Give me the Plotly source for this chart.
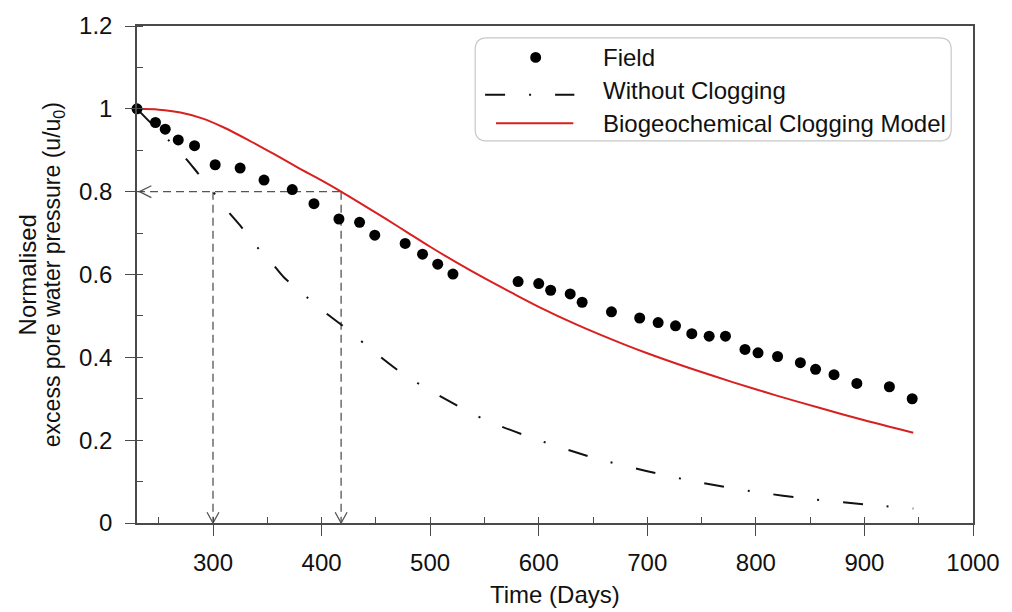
import plotly.graph_objects as go

# ---------------- data ----------------
field_days = [230, 247, 256, 268, 283, 302, 325, 347, 373, 393, 416, 435, 449, 477, 493, 507, 521,
              581, 600, 611, 629, 640, 667, 693, 710, 726, 741, 757, 772, 790, 802, 820, 841, 855,
              872, 893, 923, 944]
field_u = [1.0, 0.967, 0.951, 0.925, 0.911, 0.865, 0.857, 0.828, 0.805, 0.771, 0.734, 0.726, 0.695,
           0.675, 0.649, 0.625, 0.601, 0.583, 0.578, 0.562, 0.553, 0.533, 0.510, 0.495, 0.484, 0.476,
           0.457, 0.451, 0.451, 0.419, 0.411, 0.402, 0.387, 0.371, 0.358, 0.337, 0.329, 0.300]

noclog_days = [230, 245, 258, 274, 286, 300, 313, 326, 340, 355, 365, 380, 400, 420, 450, 475, 500,
               550, 600, 650, 700, 750, 800, 850, 900, 945]
noclog_u = [1.0, 0.96, 0.927, 0.883, 0.845, 0.80, 0.755, 0.715, 0.668, 0.625, 0.594, 0.56, 0.515,
            0.475, 0.41, 0.36, 0.32, 0.25, 0.20, 0.158, 0.125, 0.097, 0.075, 0.058, 0.045, 0.035]

model_days = [230, 250, 270, 290, 310, 333, 356, 379, 400, 418, 440, 460, 480, 500, 525, 550, 575,
              600, 635, 678, 700, 738, 780, 820, 860, 900, 945]
model_u = [1.0, 0.998, 0.991, 0.977, 0.955, 0.924, 0.891, 0.857, 0.827, 0.80, 0.765, 0.733, 0.700,
           0.667, 0.628, 0.591, 0.556, 0.522, 0.479, 0.432, 0.410, 0.375, 0.339, 0.307, 0.277,
           0.248, 0.218]

guide_u = 0.8
guide_days = [300, 418]

x_ticks = [300, 400, 500, 600, 700, 800, 900, 1000]
y_ticks = [0, 0.2, 0.4, 0.6, 0.8, 1.0, 1.2]
y_tick_text = ["0", "0.2", "0.4", "0.6", "0.8", "1", "1.2"]

series_names = ["Field", "Without Clogging", "Biogeochemical Clogging Model"]

# ---------------- style ----------------
X_RANGE = [230, 1000]
Y_RANGE = [0, 1.2]
W, H = 1012, 612
ML, MR, MT, MB = 137, 32, 17, 89
PW = W - ML - MR
PH = H - MT - MB
FONT = "Liberation Sans, Arial, sans-serif"
RED = "#d92020"
GUIDE = "#555555"
AX = "#4a4a4a"
DASHDOT = "20px,24px,2px,24px"

dpp_x = (X_RANGE[1] - X_RANGE[0]) / PW   # data per pixel
dpp_y = (Y_RANGE[1] - Y_RANGE[0]) / PH


def px(xp):
    return (xp - ML) / PW


def py(yp):
    return (H - MB - yp) / PH


fig = go.Figure()

# guide lines
fig.add_trace(go.Scatter(x=[X_RANGE[0], guide_days[1]], y=[guide_u, guide_u], mode="lines",
                         line=dict(color=GUIDE, width=1.3, dash="8px,5px"), showlegend=False,
                         hoverinfo="skip"))
for gd in guide_days:
    fig.add_trace(go.Scatter(x=[gd, gd], y=[guide_u, 0], mode="lines",
                             line=dict(color=GUIDE, width=1.3, dash="8px,5px"), showlegend=False,
                             hoverinfo="skip"))
    fig.add_trace(go.Scatter(x=[gd - 6 * dpp_x, gd, gd + 6 * dpp_x],
                             y=[11 * dpp_y, 0, 11 * dpp_y], mode="lines",
                             line=dict(color=GUIDE, width=1.3), showlegend=False,
                             hoverinfo="skip", cliponaxis=False))
tip = X_RANGE[0] + 2.5 * dpp_x
fig.add_trace(go.Scatter(x=[tip + 12 * dpp_x, tip, tip + 12 * dpp_x],
                         y=[guide_u + 6 * dpp_y, guide_u, guide_u - 6 * dpp_y], mode="lines",
                         line=dict(color=GUIDE, width=1.3), showlegend=False, hoverinfo="skip"))

# series
fig.add_trace(go.Scatter(x=noclog_days, y=noclog_u, mode="lines", name=series_names[1],
                         line=dict(color="#111111", width=2, dash=DASHDOT, shape="spline",
                                   smoothing=0.8),
                         showlegend=False))
fig.add_trace(go.Scatter(x=model_days, y=model_u, mode="lines", name=series_names[2],
                         line=dict(color=RED, width=2, shape="spline", smoothing=0.8),
                         showlegend=False))
fig.add_trace(go.Scatter(x=field_days, y=field_u, mode="markers", name=series_names[0],
                         marker=dict(color="#000000", size=11), showlegend=False,
                         cliponaxis=False))

# ---------------- custom legend ----------------
lx0, lx1, ly0, ly1, r = 478, 958, 29, 134, 12
path = (f"M {px(lx0 + r)} {py(ly0)} L {px(lx1 - r)} {py(ly0)} Q {px(lx1)} {py(ly0)} {px(lx1)} {py(ly0 + r)} "
        f"L {px(lx1)} {py(ly1 - r)} Q {px(lx1)} {py(ly1)} {px(lx1 - r)} {py(ly1)} "
        f"L {px(lx0 + r)} {py(ly1)} Q {px(lx0)} {py(ly1)} {px(lx0)} {py(ly1 - r)} "
        f"L {px(lx0)} {py(ly0 + r)} Q {px(lx0)} {py(ly0)} {px(lx0 + r)} {py(ly0)} Z")
shapes = [dict(type="path", xref="paper", yref="paper", path=path,
               line=dict(color="#c8c8c8", width=1.2), fillcolor="white", layer="above")]
rows_y = [49, 83, 116]
shapes.append(dict(type="circle", xref="paper", yref="paper",
                   x0=px(539 - 5.5), x1=px(539 + 5.5), y0=py(rows_y[0] + 5.5), y1=py(rows_y[0] - 5.5),
                   fillcolor="black", line=dict(color="black", width=0), layer="above"))
shapes.append(dict(type="line", xref="paper", yref="paper", x0=px(488), x1=px(578),
                   y0=py(rows_y[1] + 4), y1=py(rows_y[1] + 4),
                   line=dict(color="#111111", width=2, dash=DASHDOT), layer="above"))
shapes.append(dict(type="line", xref="paper", yref="paper", x0=px(499), x1=px(577),
                   y0=py(rows_y[2]), y1=py(rows_y[2]),
                   line=dict(color=RED, width=2), layer="above"))

annotations = []
for name, ry in zip(series_names, rows_y):
    annotations.append(dict(text=name, xref="paper", yref="paper", x=px(605), y=py(ry),
                            xanchor="left", yanchor="middle", showarrow=False,
                            font=dict(family=FONT, size=24, color="#111111")))

# axis titles
annotations.append(dict(text="Time (Days)", xref="paper", yref="paper", x=0.5, y=py(596),
                        xanchor="center", yanchor="middle", showarrow=False,
                        font=dict(family=FONT, size=24, color="#111111")))
annotations.append(dict(text="Normalised", xref="paper", yref="paper", x=px(27), y=py(270),
                        xanchor="center", yanchor="middle", showarrow=False, textangle=-90,
                        font=dict(family=FONT, size=24, color="#111111")))
annotations.append(dict(text="excess pore water pressure (u/u<sub>0</sub>)", xref="paper",
                        yref="paper", x=px(53), y=py(270), xanchor="center", yanchor="middle",
                        showarrow=False, textangle=-90,
                        font=dict(family=FONT, size=23, color="#111111")))

fig.update_layout(
    width=W, height=H,
    margin=dict(l=ML, r=MR, t=MT, b=MB, pad=0),
    plot_bgcolor="white", paper_bgcolor="white",
    font=dict(family=FONT, size=24, color="#111111"),
    shapes=shapes, annotations=annotations, showlegend=False,
    xaxis=dict(range=X_RANGE, tickvals=x_ticks, ticks="outside", ticklen=11, tickwidth=1.3,
               tickcolor=AX, showline=True, linecolor=AX, linewidth=1.5, mirror=True,
               showgrid=False, zeroline=False, ticklabelstandoff=6,
               tickfont=dict(family=FONT, size=24, color="#111111"),
               minor=dict(dtick=50, tick0=0, ticks="inside", ticklen=6, tickwidth=1.3,
                          tickcolor=AX, showgrid=False)),
    yaxis=dict(range=Y_RANGE, tickvals=y_ticks, ticktext=y_tick_text, ticks="outside", ticklen=10,
               tickwidth=1.3, tickcolor=AX, showline=True, linecolor=AX, linewidth=1.5,
               mirror=True, showgrid=False, zeroline=False, ticklabelstandoff=8,
               tickfont=dict(family=FONT, size=24, color="#111111"),
               minor=dict(dtick=0.1, tick0=0, ticks="inside", ticklen=6, tickwidth=1.3,
                          tickcolor=AX, showgrid=False)),
)

fig.write_html("out.html")
